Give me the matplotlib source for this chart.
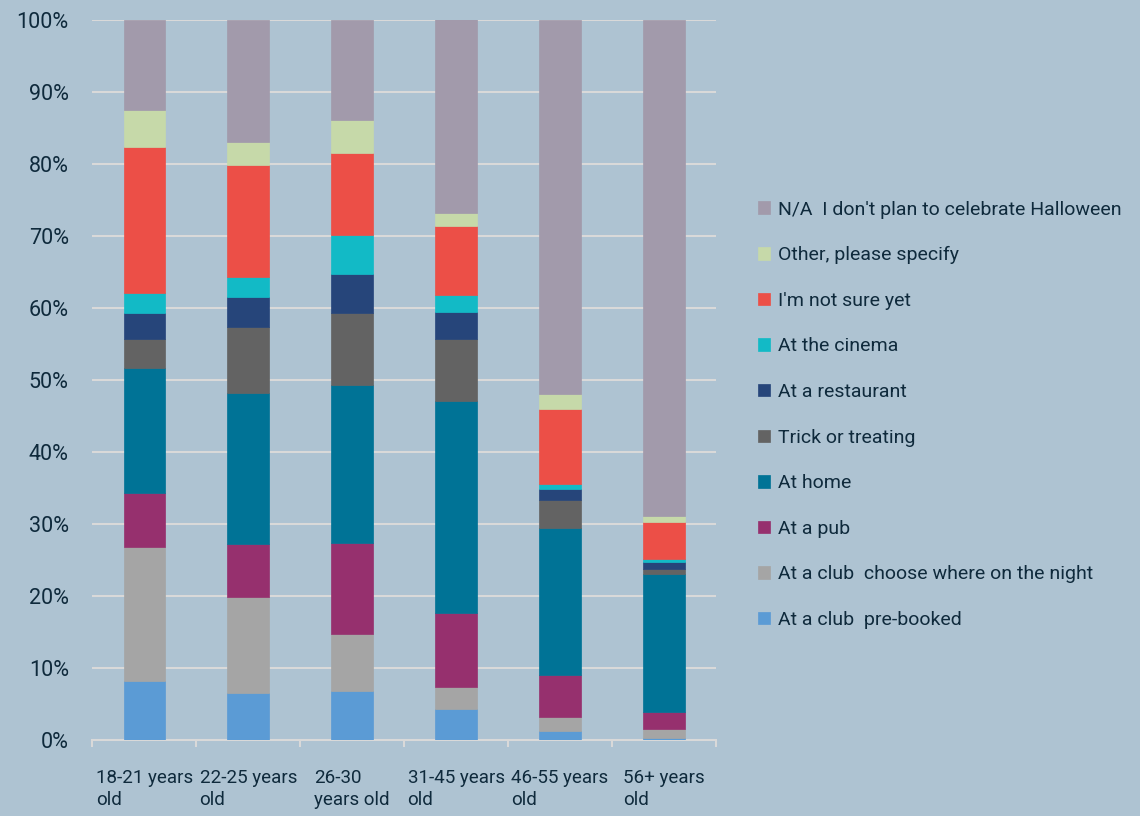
import matplotlib
matplotlib.use("Agg")
import matplotlib.pyplot as plt
import numpy as np

# age groups
groups = ["18-21 years\nold", "22-25 years\nold", "26-30\nyears old",
          "31-45 years\nold", "46-55 years\nold", "56+ years\nold"]

# answer shares (%) per age group, bottom to top
club_prebooked = [8.2, 6.5, 6.8, 4.3, 1.25, 0.3]
club_choose = [18.6, 13.4, 8.0, 3.1, 1.95, 1.2]
pub = [7.5, 7.4, 12.6, 10.2, 5.9, 2.4]
home = [17.4, 20.9, 21.9, 29.5, 20.4, 19.2]
trick = [4.1, 9.2, 10.0, 8.6, 3.8, 0.7]
restaurant = [3.5, 4.1, 5.5, 3.8, 1.6, 0.9]
cinema = [2.8, 2.9, 5.4, 2.4, 0.7, 0.5]
not_sure = [20.3, 15.5, 11.4, 9.6, 10.4, 5.1]
other = [5.1, 3.2, 4.5, 1.8, 2.1, 0.8]
no_plan = [12.5, 16.9, 13.9, 27.1, 51.9, 68.9]

series = [
    ("At a club  pre-booked", club_prebooked, "#5b9bd5"),
    ("At a club  choose where on the night", club_choose, "#a5a5a5"),
    ("At a pub", pub, "#96306e"),
    ("At home", home, "#007396"),
    ("Trick or treating", trick, "#636363"),
    ("At a restaurant", restaurant, "#26457a"),
    ("At the cinema", cinema, "#12bac6"),
    ("I'm not sure yet", not_sure, "#ec4f47"),
    ("Other, please specify", other, "#c6d9a9"),
    ("N/A  I don't plan to celebrate Halloween", no_plan, "#a29aab"),
]

bg = "#aec3d2"
txt = "#0f2a3c"
fam = "Roboto"

fig = plt.figure(figsize=(11.4, 8.16), dpi=100, facecolor=bg)
ax = fig.add_axes([0.081, 0.093, 0.547, 0.882], facecolor=bg)

x = np.arange(len(groups))
bottom = np.zeros(len(groups))
handles = []
for name, vals, col in series:
    vals = np.array(vals)
    b = ax.bar(x, vals, 0.4, bottom=bottom, color=col, label=name,
               edgecolor=col, linewidth=0.5, zorder=3)
    handles.append(b)
    bottom = bottom + vals

ax.set_xlim(-0.5, len(groups) - 0.5)
ax.set_ylim(0, 100)
ax.set_yticks(np.arange(0, 101, 10))
ax.set_yticklabels([f"{v}%" for v in range(0, 101, 10)], color=txt,
                   fontsize=15.5, family=fam)
ax.tick_params(axis="y", length=0, pad=17)
ax.grid(axis="y", color="#d9d9d9", linewidth=1.5, zorder=0)
ax.set_axisbelow(True)
for s in ["top", "right", "left"]:
    ax.spines[s].set_visible(False)
ax.spines["bottom"].set_color("#d9d9d9")
ax.spines["bottom"].set_linewidth(1.5)

# category boundary ticks
ax.set_xticks(np.arange(-0.5, len(groups)), minor=True)
ax.tick_params(axis="x", which="minor", length=5, color="#d9d9d9", width=1.5)
ax.set_xticks(x)
ax.set_xticklabels(groups, color=txt, fontsize=13.5, linespacing=1.3,
                   multialignment="left", va="top", family=fam)
ax.tick_params(axis="x", which="major", length=0, pad=21)

leg = ax.legend(handles[::-1], [h.get_label() for h in handles[::-1]],
                loc="center left", bbox_to_anchor=(1.04, 0.452),
                frameon=False, handlelength=0.6, handleheight=0.6,
                handletextpad=0.4, labelspacing=1.42,
                prop=dict(size=14, family=fam))
for t in leg.get_texts():
    t.set_color(txt)

fig.savefig("out.png", dpi=100, facecolor=bg)
